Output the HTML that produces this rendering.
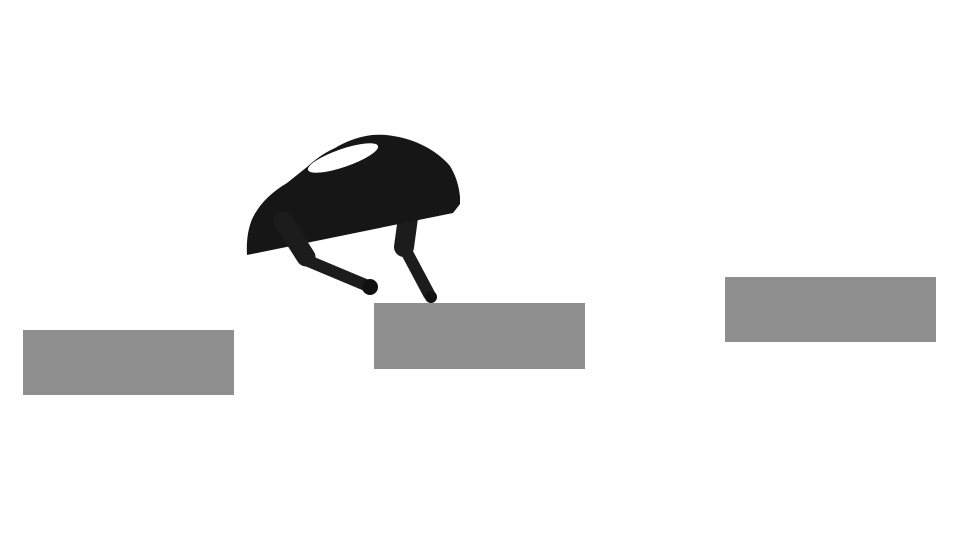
<!DOCTYPE html>
<html>
<head>
<meta charset="utf-8">
<style>
html,body{margin:0;padding:0;background:#fff;width:960px;height:540px;overflow:hidden;}
svg{display:block;}
</style>
</head>
<body>
<svg width="960" height="540" viewBox="0 0 960 540">
  <rect x="0" y="0" width="960" height="540" fill="#ffffff"/>
  <rect x="23" y="330" width="211" height="65" fill="#8f8f8f"/>
  <rect x="374" y="303" width="211" height="66" fill="#8f8f8f"/>
  <rect x="725" y="277" width="211" height="65" fill="#8f8f8f"/>
  <g>
    <g stroke="#1c1c1c" stroke-linecap="round" fill="none">
      <line x1="412" y1="188" x2="404" y2="247" stroke-width="20"/>
      <line x1="404" y1="247" x2="429" y2="294" stroke-width="12"/>
      <circle cx="431" cy="297" r="6" fill="#111" stroke="none"/>
    </g>
    <path fill="#161616"
      d="M247,255 C246,238 249,222 256,212 C262,202 272,192 287,183 L307,167 C315,160 322,154 335,148 C345,142 357,137 372,135 C385,134 397,136 410,140 C425,145 440,154 450,166 C456,176 459,186 460,197 L460,204 L453,213 Z"/>
    <ellipse cx="343" cy="158" rx="37" ry="9" transform="rotate(-19 343 158)" fill="#ffffff"/>
    <g stroke="#1c1c1c" stroke-linecap="round" fill="none">
      <line x1="283" y1="221" x2="306" y2="257" stroke-width="19"/>
      <line x1="306" y1="260" x2="368" y2="286" stroke-width="12"/>
      <circle cx="370" cy="287" r="8" fill="#111" stroke="none"/>
    </g>
  </g>
</svg>
</body>
</html>
